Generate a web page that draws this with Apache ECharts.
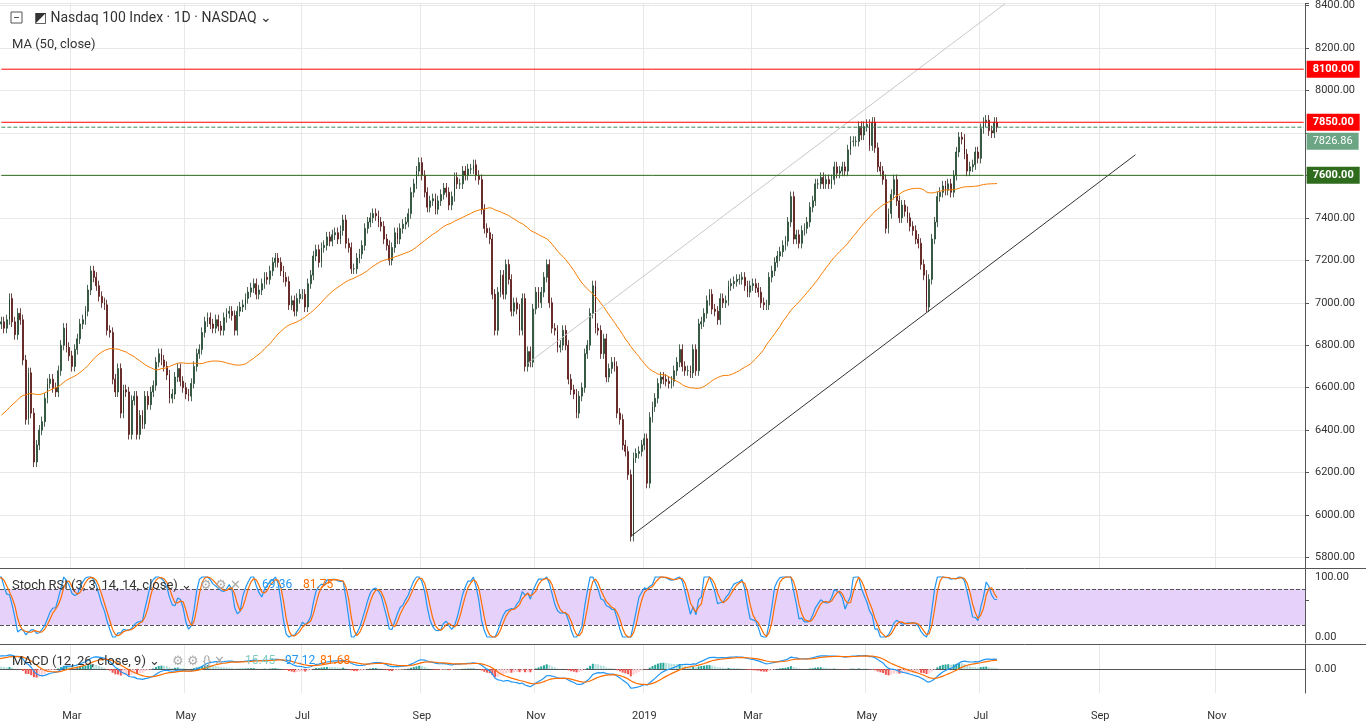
<!DOCTYPE html>
<html><head><meta charset="utf-8">
<script src="https://cdn.jsdelivr.net/npm/echarts@6/dist/echarts.min.js"></script>
<style>html,body{margin:0;padding:0;background:#fff}#c{width:1366px;height:725px}</style>
</head><body><div id="c"></div>
<script>
const lastDate = '2019-07-10';
const viewStart = '2018-01-23';
const visibleBars = 481;
const holidays = ['2017-11-23','2017-12-25','2018-01-01','2018-01-15','2018-02-19','2018-03-30','2018-05-28','2018-07-04','2018-09-03','2018-11-22','2018-12-05','2018-12-25','2019-01-01','2019-01-21','2019-02-18','2019-04-19','2019-05-27','2019-07-04','2019-09-02','2019-11-28','2019-12-25'];
const closes = [
6330,6340,6320,6310,6300,6330,6270,6330,6360,6380,6390,6400,6420,6430,6300,6290,6280,6320,6300,6330,6360,6380,6340,6330,6390,6400,6440,6460,6420,6410,6420,6400,6420,6410,6400,
6510,6560,6600,6640,6650,6660,6650,6700,6760,6800,6790,6820,6870,6900,6910,
6880,6920,7020,6910,6850,6950,
6920,6730,6450,6670,6480,6250,6330,6400,6440,6550,6620,6640,6600,6580,6680,6800,6880,6790,6750,
6700,6780,6830,6900,6920,6960,7060,7150,7120,7080,7030,7000,6990,6870,6860,6640,6580,6690,6480,6590,6580,
6380,6540,6560,6380,6470,6430,6560,6520,6580,6610,6720,6760,6730,6700,6660,6550,6570,6650,6690,6630,6600,
6570,6560,6620,6700,6760,6780,6860,6910,6930,6900,6880,6920,6890,6870,6930,6950,6960,6940,6870,6960,6980,6990,
7020,7050,7070,7090,7040,7060,7090,7120,7110,7150,7190,7210,7190,7150,7120,7100,6990,7010,6960,7020,7040,
7040,6980,7090,7130,7220,7250,7190,7260,7270,7310,7290,7320,7330,7300,7340,7390,7280,7260,7160,7160,7210,
7230,7270,7350,7380,7400,7420,7410,7380,7360,7300,7270,7200,7260,7330,7300,7350,7370,7380,7420,7520,7560,7620,7660,
7600,7520,7450,7480,7490,7440,7480,7510,7540,7520,7460,7500,7590,7560,7560,7620,7600,7630,7630,
7650,7600,7580,7440,7350,7330,7300,7040,6870,7050,7130,7040,7180,7110,6960,7000,6970,6870,7020,6700,6770,6720,6970,
7050,7000,7050,7120,7180,7000,6880,6870,6790,6800,6870,6800,6640,6590,6570,6480,6560,6600,6760,6800,6950,
7080,6880,6870,6760,6830,6650,6690,6720,6700,6480,6450,6330,6300,6190,5900,6270,6290,6300,6330,
6360,6150,6460,6510,6550,6620,6650,6640,6630,6620,6630,6680,6720,6780,6700,6680,6680,6670,6780,6680,6900,
6910,6950,7010,7040,6970,6960,6920,7020,7000,7010,7080,7090,7100,7110,7110,7120,7080,7050,7080,
7090,7070,7050,7000,6990,6990,7120,7150,7190,7220,7240,7270,7290,7380,7500,7300,7320,7280,7340,7350,7380,
7450,7480,7560,7560,7590,7560,7580,7560,7580,7640,7610,7620,7640,7620,7720,7760,7760,7760,7830,7790,7830,
7840,7740,7850,7730,7640,7620,7580,7350,7420,7510,7580,7480,7400,7460,7430,7400,7360,7340,7300,7280,7180,7130,
6980,7110,7300,7380,7500,7520,7550,7530,7560,7520,7600,7710,7780,7770,7700,7620,7640,7650,7710,7680,
7820,7850,7860,7810,7800,7850,7826.86
];
const firstOpen = 6320;
const wick = 24;
const levelLines = [{v:8100,c:'#ff0000'},{v:7850,c:'#ff0000'},{v:7600,c:'#2f6b1c'}];
const lastPrice = 7826.86;
const trendBlack = [['2018-12-24',5900],['2019-09-20',7697]];
const trendGrey = [['2018-10-29',6714],['2019-07-15',8409]];

const DAY=86400000;
function isTd(d){const w=d.getUTCDay();return w!==0&&w!==6&&holidays.indexOf(d.toISOString().slice(0,10))<0;}
const n=closes.length;
const dates=[];
{let d=new Date(lastDate+'T00:00:00Z');while(dates.length<n){if(isTd(d))dates.unshift(d.toISOString().slice(0,10));d=new Date(d.getTime()-DAY);}}
const startIdx=dates.indexOf(viewStart);
{let d=new Date(new Date(lastDate+'T00:00:00Z').getTime()+DAY);
 while(dates.length<startIdx+visibleBars){if(isTd(d))dates.push(d.toISOString().slice(0,10));d=new Date(d.getTime()+DAY);}}
const endIdx=startIdx+visibleBars-1;
const ohlc=closes.map((c,i)=>{const o=i?closes[i-1]:firstOpen;return [o,c,Math.min(o,c)-wick,Math.max(o,c)+wick];});
const ma=closes.map((c,i)=>{if(i<49)return '-';let s=0;for(let j=i-49;j<=i;j++)s+=closes[j];return +(s/50).toFixed(2);});
function rsi(arr,p){const out=arr.map(()=>null);let g=0,l=0;for(let i=1;i<arr.length;i++){const d=arr[i]-arr[i-1];const up=Math.max(d,0),dn=Math.max(-d,0);
 if(i<=p){g+=up;l+=dn;if(i===p){g/=p;l/=p;out[i]=l===0?100:100-100/(1+g/l);}}else{g=(g*(p-1)+up)/p;l=(l*(p-1)+dn)/p;out[i]=l===0?100:100-100/(1+g/l);}}return out;}
function sma(arr,p){return arr.map((v,i)=>{if(i<p-1)return null;let s=0;for(let j=i-p+1;j<=i;j++){if(arr[j]==null)return null;s+=arr[j];}return s/p;});}
const r=rsi(closes,14);
const st=r.map((v,i)=>{if(v==null||i<27)return null;let mn=1e9,mx=-1e9;for(let j=i-13;j<=i;j++){mn=Math.min(mn,r[j]);mx=Math.max(mx,r[j]);}return mx===mn?50:(v-mn)/(mx-mn)*100;});
const K=sma(st,3),D=sma(K,3);
function ema(arr,p){const k=2/(p+1);let prev=null;return arr.map(v=>{if(v==null)return null;prev=prev==null?v:v*k+prev*(1-k);return prev;});}
const e12=ema(closes,12),e26=ema(closes,26);
const macd=closes.map((c,i)=>e12[i]-e26[i]);
const sig=ema(macd,9);
const hist=macd.map((m,i)=>m-sig[i]);
const histData=hist.map((h,i)=>{const p=i?hist[i-1]:0;let col;if(h>=0)col=h>=p?'#26a69a':'#b2dfdb';else col=h<=p?'#ef5350':'#ffcdd2';return {value:+h.toFixed(2),itemStyle:{color:col}};});
const nz=a=>a.map(v=>v==null?'-':+v.toFixed(2));

const MN=['','Jan','Feb','Mar','Apr','May','Jun','Jul','Aug','Sep','Oct','Nov','Dec'];
function isTick(i){if(i===0)return false;const m=+dates[i].slice(5,7),pm=+dates[i-1].slice(5,7);return m!==pm&&(m%2===1);}
function lab(v){const m=+v.slice(5,7);return m===1?v.slice(0,4):MN[m];}
const grids=[{left:0,right:61,top:0,height:600},{left:0,right:61,top:570,height:73},{left:0,right:61,top:645,height:48}];
const xAxes=[0,1,2].map(g=>({type:'category',gridIndex:g,data:dates,boundaryGap:true,
 axisLine:{show:g===2,lineStyle:{color:'#555'}},axisTick:{show:false},
 axisLabel:{show:g===2,interval:(i)=>isTick(i),formatter:(v)=>lab(v),color:'#333',fontSize:11,fontFamily:'Roboto',margin:18},
 splitLine:{show:true,interval:(i)=>isTick(i),lineStyle:{color:'#e8e8e8'}}}));
const yLab={color:'#333',fontSize:11,fontFamily:'Roboto',margin:10};
const yAxes=[
 {type:'value',gridIndex:0,position:'right',min:5600,max:8409,interval:200,axisLine:{show:true,lineStyle:{color:'#555'}},axisTick:{show:true,length:4},
  axisLabel:Object.assign({},yLab,{formatter:v=>(v<5800||v>8400||v===7800)?'':v.toFixed(2)}),splitLine:{lineStyle:{color:'#e8e8e8'}}},
 {type:'value',gridIndex:1,position:'right',min:-10,max:111.7,axisLine:{show:true,lineStyle:{color:'#555'}},axisTick:{show:false},
  axisLabel:Object.assign({},yLab,{customValues:[0,100],formatter:v=>v.toFixed(2)}),splitLine:{show:false}},
 {type:'value',gridIndex:2,position:'right',min:-230,max:230,axisLine:{show:true,lineStyle:{color:'#555'}},axisTick:{show:false},
  axisLabel:Object.assign({},yLab,{customValues:[0],formatter:v=>v.toFixed(2)}),splitLine:{show:false}}
];
const tagStyle=(bg,bold,off)=>({show:true,backgroundColor:bg,color:'#fff',fontWeight:bold?'bold':'normal',fontSize:11,fontFamily:'Roboto',padding:[3,6,3,6],distance:3,offset:[0,off||0],formatter:p=>(+p.value[1]).toFixed(2)});
const hLine=(v,c,bg,type,bold,off,z)=>({type:'line',xAxisIndex:0,yAxisIndex:0,z:z||4,showSymbol:false,silent:true,
  data:[[startIdx,v],[endIdx,v]],lineStyle:{color:c,width:1,type:type},itemStyle:{color:c},endLabel:tagStyle(bg,bold,off)});
const opt={animation:false,grid:grids,xAxis:xAxes,yAxis:yAxes,
 dataZoom:[{type:'inside',xAxisIndex:[0,1,2],startValue:startIdx,endValue:endIdx,filterMode:'none',zoomOnMouseWheel:false,moveOnMouseMove:false,moveOnMouseWheel:false}],
 graphic:[
  {type:'rect',shape:{x:0,y:568,width:1305,height:76},style:{fill:'#fff'},z:1},
  {type:'line',shape:{x1:0,y1:568.5,x2:1366,y2:568.5},style:{stroke:'#555',lineWidth:1},z:20},
  {type:'line',shape:{x1:0,y1:644.5,x2:1366,y2:644.5},style:{stroke:'#555',lineWidth:1},z:20},
  {type:'rect',shape:{x:11,y:12,width:11,height:11},style:{fill:'#fff',stroke:'#555',lineWidth:1},z:20},
  {type:'line',shape:{x1:14,y1:17.5,x2:19,y2:17.5},style:{stroke:'#555'},z:20},
  {type:'text',x:34,y:11,style:{text:'◩ Nasdaq 100 Index · 1D · NASDAQ ⌄',fill:'#333',font:'14px Roboto'},z:20},
  {type:'text',x:12,y:38,style:{text:'MA (50, close)',fill:'#333',font:'13px Roboto'},z:20},
  {type:'text',x:12,y:579,style:{text:'Stoch RSI (3, 3, 14, 14, close) ⌄',fill:'#333',font:'13px Roboto'},z:20},
  {type:'text',x:200,y:579,style:{text:'⚙ ⚙ ✕',fill:'#aaa',font:'13px Roboto'},z:20},
  {type:'text',x:262,y:579,style:{text:'69.36',fill:'#2196f3',font:'12px Roboto'},z:20},
  {type:'text',x:303,y:579,style:{text:'81.75',fill:'#ff6d00',font:'12px Roboto'},z:20},
  {type:'text',x:12,y:655,style:{text:'MACD (12, 26, close, 9) ⌄',fill:'#333',font:'13px Roboto'},z:20},
  {type:'text',x:172,y:655,style:{text:'⚙ ⚙ {} ✕',fill:'#aaa',font:'13px Roboto'},z:20},
  {type:'text',x:245,y:655,style:{text:'15.45',fill:'#80cbc4',font:'12px Roboto'},z:20},
  {type:'text',x:285,y:655,style:{text:'97.12',fill:'#2196f3',font:'12px Roboto'},z:20},
  {type:'text',x:320,y:655,style:{text:'81.68',fill:'#ff6d00',font:'12px Roboto'},z:20}
 ],
 series:[
  {type:'candlestick',xAxisIndex:0,yAxisIndex:0,data:ohlc,barMaxWidth:5,z:3,
   itemStyle:{color:'#3c8a5a',color0:'#c0392b',borderColor:'#1e3d28',borderColor0:'#4a1010',borderWidth:0.8}},
  {type:'line',xAxisIndex:0,yAxisIndex:0,data:ma,showSymbol:false,lineStyle:{color:'#f57c00',width:1},z:4},
  ...levelLines.map(l=>hLine(l.v,l.c,l.c,'solid',true,0,5)),
  hLine(lastPrice,'#3c8a5a','#6ca584','dashed',false,14,4),
  {type:'line',xAxisIndex:0,yAxisIndex:0,data:[],showSymbol:false,z:4,
   markLine:{symbol:'none',silent:true,label:{show:false},lineStyle:{color:'#333',type:'solid',width:1},
    data:[[{coord:trendBlack[0]},{coord:trendBlack[1]}]]}},
  {type:'line',xAxisIndex:0,yAxisIndex:0,data:[],showSymbol:false,z:4,
   markLine:{symbol:'none',silent:true,label:{show:false},lineStyle:{color:'#c8c8c8',type:'solid',width:1},
    data:[[{coord:trendGrey[0]},{coord:trendGrey[1]}]]}},
  {type:'line',xAxisIndex:1,yAxisIndex:1,data:nz(K),showSymbol:false,lineStyle:{color:'#2196f3',width:1.2},z:6,
   markArea:{silent:true,itemStyle:{color:'rgba(190,140,240,0.4)'},data:[[{yAxis:20},{yAxis:80}]]},
   markLine:{symbol:'none',silent:true,label:{show:false},lineStyle:{color:'#555',type:'dashed',width:1},data:[{yAxis:80},{yAxis:20}]}},
  {type:'line',xAxisIndex:1,yAxisIndex:1,data:nz(D),showSymbol:false,lineStyle:{color:'#ff6d00',width:1.2},z:6},
  {type:'bar',xAxisIndex:2,yAxisIndex:2,data:histData,barWidth:2,z:5},
  {type:'line',xAxisIndex:2,yAxisIndex:2,data:nz(macd),showSymbol:false,lineStyle:{color:'#2196f3',width:1.2},z:6},
  {type:'line',xAxisIndex:2,yAxisIndex:2,data:nz(sig),showSymbol:false,lineStyle:{color:'#ff6d00',width:1.2},z:6}
 ]};
echarts.init(document.getElementById('c')).setOption(opt);
</script></body></html>
